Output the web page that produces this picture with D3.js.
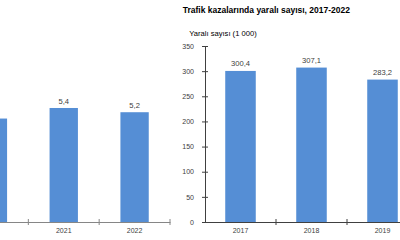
<!DOCTYPE html>
<html><head><meta charset="utf-8">
<script src="https://cdn.jsdelivr.net/npm/d3@7"></script>
<style>html,body{margin:0;padding:0;background:#fff;overflow:hidden}text{font-family:"Liberation Sans",Arial,sans-serif}</style>
</head><body>
<svg id="c" width="400" height="240"></svg>
<script>
// Left (partially visible) chart: traffic deaths (thousand)
const leftYears = ["2020", "2021", "2022"];
const leftValues = [4.9, 5.4, 5.2];
const leftLabels = ["", "5,4", "5,2"];      // 2020 label lies outside the visible frame
const leftYearLabels = ["", "2021", "2022"];
// Right chart: injured
const rightTitle = "Trafik kazalarında yaralı sayısı, 2017-2022";
const rightAxisTitle = "Yaralı sayısı (1 000)";
const rightYears = ["2017", "2018", "2019"];
const rightValues = [300.4, 307.1, 283.2];
const rightLabels = ["300,4", "307,1", "283,2"];
const rightTicks = [0, 50, 100, 150, 200, 250, 300, 350];

const svg = d3.select("#c");
const barColor = "#558ed5";

// ---- Left chart ----
{
  const x = d3.scaleBand().domain(leftYears).range([-42.5, 170]).padding(0);
  const y = d3.scaleLinear().domain([0, 8]).range([222, 53.1]);
  const bwR = 0.40;
  const g = svg.append("g");
  g.selectAll("rect").data(leftValues).join("rect")
    .attr("x", (d, i) => x(leftYears[i]) + x.bandwidth() * (1 - bwR) / 2)
    .attr("width", x.bandwidth() * bwR)
    .attr("y", d => y(d)).attr("height", d => y(0) - y(d))
    .attr("fill", barColor);
  g.selectAll("text.v").data(leftValues).join("text").attr("class", "v")
    .attr("x", (d, i) => x(leftYears[i]) + x.bandwidth() / 2)
    .attr("y", d => y(d) - 4)
    .attr("text-anchor", "middle").attr("font-size", 7.6).attr("fill", "#404040")
    .text((d, i) => leftLabels[i]);
  const ax = g.append("g").attr("transform", `translate(0,${y(0)})`)
    .call(d3.axisBottom(x).tickSize(0).tickPadding(6).tickSizeOuter(0)
      .tickFormat((d, i) => leftYearLabels[i]));
  ax.select(".domain").attr("stroke", "#868686");
  ax.selectAll("text").attr("font-size", 7).attr("fill", "#404040").attr("font-family", "Liberation Sans, Arial, sans-serif");
  g.selectAll("line.bt").data(leftYears).join("line").attr("class", "bt")
    .attr("x1", d => x(d) + x.bandwidth()).attr("x2", d => x(d) + x.bandwidth())
    .attr("y1", y(0) - 3).attr("y2", y(0) + 3).attr("stroke", "#868686");
}

// ---- Right chart ----
{
  const x = d3.scaleBand().domain(rightYears).range([205, 418]).padding(0);
  const y = d3.scaleLinear().domain([0, 350]).range([222, 46]);
  const bwR = 0.43;
  const g = svg.append("g");
  g.append("text").attr("x", 182.7).attr("y", 13).attr("font-size", 8.5).attr("font-weight", "bold")
    .attr("fill", "#000").text(rightTitle);
  g.append("text").attr("x", 189.3).attr("y", 36).attr("font-size", 7.6).attr("fill", "#000")
    .text(rightAxisTitle);
  g.selectAll("rect").data(rightValues).join("rect")
    .attr("x", (d, i) => x(rightYears[i]) + x.bandwidth() * (1 - bwR) / 2)
    .attr("width", x.bandwidth() * bwR)
    .attr("y", d => y(d)).attr("height", d => y(0) - y(d))
    .attr("fill", barColor);
  g.selectAll("text.v").data(rightValues).join("text").attr("class", "v")
    .attr("x", (d, i) => x(rightYears[i]) + x.bandwidth() / 2)
    .attr("y", d => y(d) - 5)
    .attr("text-anchor", "middle").attr("font-size", 7.6).attr("fill", "#404040")
    .text((d, i) => rightLabels[i]);
  const ya = g.append("g").attr("transform", `translate(205,0)`)
    .call(d3.axisLeft(y).tickValues(rightTicks).tickSize(3).tickPadding(8).tickSizeOuter(0));
  ya.select(".domain").attr("stroke", "#404040");
  ya.selectAll(".tick line").attr("x2", 3).attr("x1", -3).attr("stroke", "#404040");
  ya.selectAll("text").attr("font-size", 7).attr("fill", "#404040").attr("font-family", "Liberation Sans, Arial, sans-serif");
  const xa = g.append("g").attr("transform", `translate(0,${y(0)})`)
    .call(d3.axisBottom(x).tickSize(0).tickPadding(6).tickSizeOuter(0));
  xa.select(".domain").attr("stroke", "#404040");
  xa.selectAll("text").attr("font-size", 7).attr("fill", "#404040").attr("font-family", "Liberation Sans, Arial, sans-serif");
  g.selectAll("line.bt").data(rightYears.slice(0, -1)).join("line").attr("class", "bt")
    .attr("x1", d => x(d) + x.bandwidth()).attr("x2", d => x(d) + x.bandwidth())
    .attr("y1", y(0) - 3).attr("y2", y(0) + 3).attr("stroke", "#404040");
}
</script>
</body></html>
